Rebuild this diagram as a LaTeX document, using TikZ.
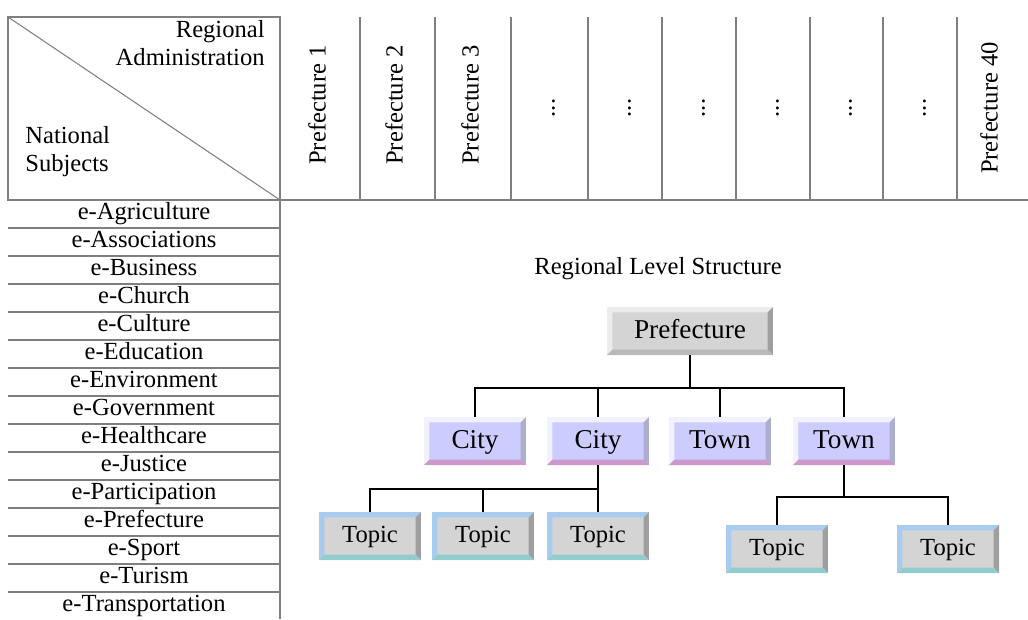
\documentclass[tikz,border=0pt]{standalone}
\usepackage{fontspec}
\setmainfont{Liberation Serif}
\usetikzlibrary{positioning}

\definecolor{gridgray}{HTML}{7F7F7F}
\definecolor{boxgray}{HTML}{D4D4D4}
\definecolor{lavender}{HTML}{CCCCFF}
\definecolor{skyedge}{HTML}{A8CCF0}
\definecolor{tealedge}{HTML}{92CCCC}
\definecolor{pinkedge}{HTML}{CC99CC}

\tikzset{
  cell/.style={font=\fontsize{14}{16}\selectfont, inner sep=0pt, text height=9.5pt, text depth=3pt},
  gridline/.style={draw=gridgray, line width=0.8pt},
  link/.style={draw=black, line width=1pt},
  bevel/.style n args={3}{path picture={
      \path (path picture bounding box.south west) coordinate (sw)
            (path picture bounding box.north east) coordinate (ne)
            (sw |- ne) coordinate (nw) (sw -| ne) coordinate (se);
      \fill[#1] (sw) -- (nw) -- (ne) -- ([shift={(-3pt,-3pt)}]ne)
            -- ([shift={(3pt,-3pt)}]nw) -- ([shift={(3pt,3pt)}]sw) -- cycle;
      \fill[#2] (ne) -- (se) -- ([shift={(-3pt,3pt)}]se) -- ([shift={(-3pt,-3pt)}]ne) -- cycle;
      \fill[#3] (sw) -- (se) -- ([shift={(-3pt,3pt)}]se) -- ([shift={(3pt,3pt)}]sw) -- cycle;
  }},
  prefbox/.style={fill=boxgray, minimum width=3.32cm, minimum height=0.96cm, inner sep=0pt,
    text height=11pt, text depth=3pt,
    font=\fontsize{15.5}{17}\selectfont, bevel={white!85!gray}{gray!75}{gray!55}},
  citybox/.style={fill=lavender, minimum width=2.04cm, minimum height=0.96cm, inner sep=0pt,
    text height=11pt, text depth=3pt,
    font=\fontsize{15.5}{17}\selectfont, bevel={white!75!lavender}{lavender!60!gray}{pinkedge}},
  topicbox/.style={fill=boxgray, minimum width=2.04cm, minimum height=0.96cm, inner sep=0pt,
    text height=10pt, text depth=3pt,
    font=\fontsize{14}{16}\selectfont, bevel={skyedge}{gray!75}{tealedge}},
}

\begin{document}
\begin{tikzpicture}[x=0.02cm, y=-0.02cm]
  \useasboundingbox (0,0) rectangle (1028,619);

  % header of the table
  \draw[gridline] (8,17) rectangle (280,200);
  \draw[gridline, line width=0.6pt] (8,17) -- (280,200);
  \draw[gridline] (280,200) -- (1028,200);
  \draw[gridline] (280,17) -- (280,619);
  \node[cell, align=right, anchor=north east, text height=, text depth=] (regadm) at (265,20) {Regional\\Administration};
  \node[cell, align=left, anchor=south west, text height=, text depth=] (natsub) at (25,177) {National\\Subjects};

  \foreach \x in {360,435,511,588,662,736,810,883,957}
    \draw[gridline] (\x,17) -- (\x,200);

  \node[cell, rotate=90] (p1) at (320,105) {Prefecture 1};
  \node[cell, rotate=90] (p2) at (397,105) {Prefecture 2};
  \node[cell, rotate=90] (p3) at (473,105) {Prefecture 3};
  \foreach \x [count=\i] in {549,625,699,773,846,920}
    \node[cell, rotate=90] (dots\i) at (\x,108) {...};
  \node[cell, rotate=90] (p40) at (992,108) {Prefecture 40};

  % national subjects
  \foreach \k in {1,...,14}
    \draw[gridline] (8,{200+28*\k}) -- (280,{200+28*\k});
  \foreach \s [count=\i from 0] in {Agriculture,Associations,Business,Church,Culture,
      Education,Environment,Government,Healthcare,Justice,Participation,Prefecture,
      Sport,Turism,Transportation}
    \node[cell] (subj\i) at (144,{214+28*\i}) {e-\s};

  % regional level structure
  \node[cell] (title) at (658,269) {Regional Level Structure};

  \node[prefbox] (pref) at (690,331) {Prefecture};
  \node[citybox] (city1) at (475,441) {City};
  \node[citybox] (city2) at (598,441) {City};
  \node[citybox] (town1) at (720,441) {Town};
  \node[citybox] (town2) at (844,441) {Town};

  \node[topicbox] (topic1) at (370,536) {Topic};
  \node[topicbox] (topic2) at (483,536) {Topic};
  \node[topicbox] (topic3) at (598,536) {Topic};
  \node[topicbox] (topic4) at (777,549) {Topic};
  \node[topicbox] (topic5) at (948,549) {Topic};

  \coordinate (bus1) at (690,388);
  \coordinate (bus2) at (598,489);
  \coordinate (bus3) at (844,497);

  \draw[link] (pref.south) -- (bus1);
  \foreach \n in {city1,city2,town1,town2}
    \draw[link] (bus1) -| (\n.north);
  \draw[link] (city2.south) -- (bus2);
  \foreach \n in {topic1,topic2,topic3}
    \draw[link] (bus2) -| (\n.north);
  \draw[link] (town2.south) -- (bus3);
  \foreach \n in {topic4,topic5}
    \draw[link] (bus3) -| (\n.north);
\end{tikzpicture}
\end{document}
